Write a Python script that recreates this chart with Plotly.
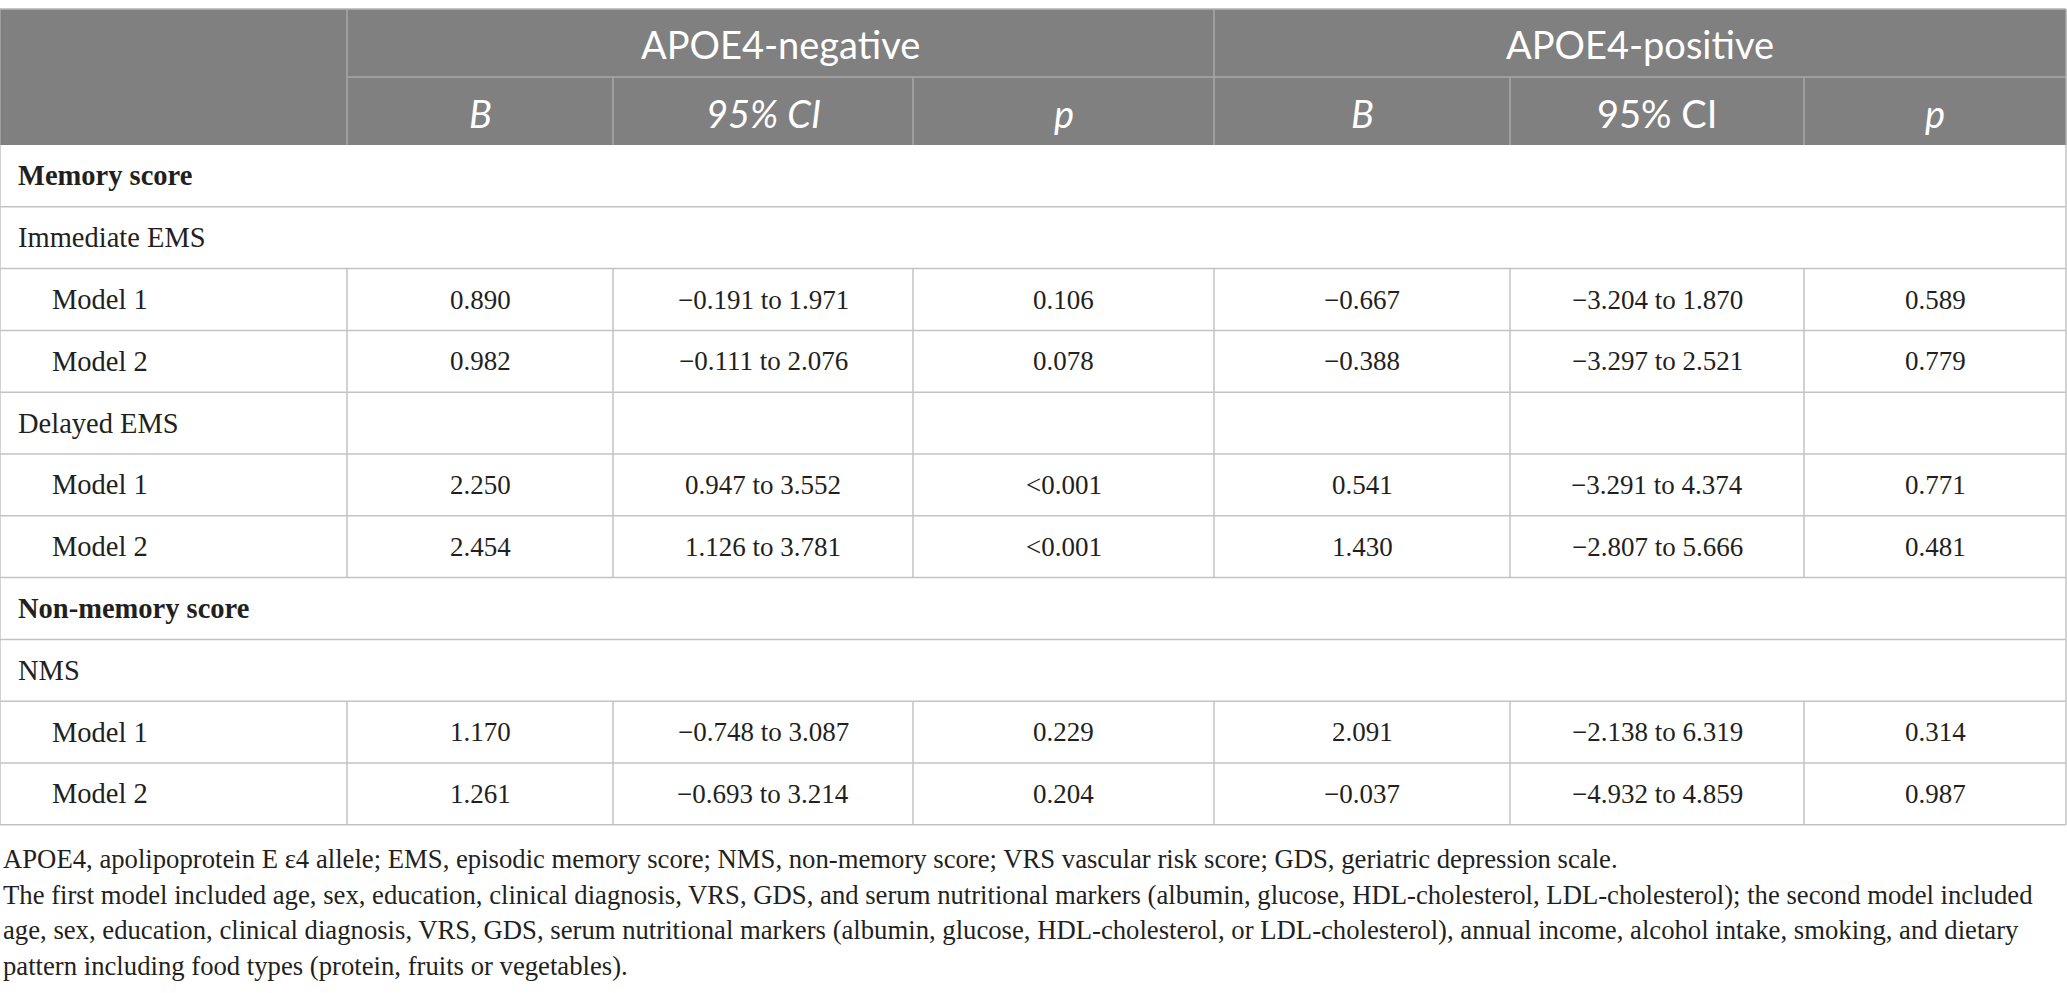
import plotly.graph_objects as go

# row labels of the table body, top to bottom
row_labels = ["Memory score", "Immediate EMS", "Model 1", "Model 2", "Delayed EMS",
              "Model 1", "Model 2", "Non-memory score", "NMS", "Model 1", "Model 2"]
# section = bold spanning row, group = spanning sub-heading, cells = sub-heading with empty cells, model = data row
row_kind = ["section", "group", "model", "model", "cells",
            "model", "model", "section", "group", "model", "model"]

group_names = ["APOE4-negative", "APOE4-positive"]
sub_headers = ["<i>B</i>", "<i>95% CI</i>", "<i>p</i>", "<i>B</i>", "95% CI", "<i>p</i>"]

# values for the six model rows
neg_B = ["0.890", "0.982", "2.250", "2.454", "1.170", "1.261"]
neg_ci = ["\u22120.191 to 1.971", "\u22120.111 to 2.076", "0.947 to 3.552",
          "1.126 to 3.781", "\u22120.748 to 3.087", "\u22120.693 to 3.214"]
neg_p = ["0.106", "0.078", "<0.001", "<0.001", "0.229", "0.204"]
pos_B = ["\u22120.667", "\u22120.388", "0.541", "1.430", "2.091", "\u22120.037"]
pos_ci = ["\u22123.204 to 1.870", "\u22123.297 to 2.521", "\u22123.291 to 4.374",
          "\u22122.807 to 5.666", "\u22122.138 to 6.319", "\u22124.932 to 4.859"]
pos_p = ["0.589", "0.779", "0.771", "0.481", "0.314", "0.987"]

footnotes = [
    "APOE4, apolipoprotein E \u03b54 allele; EMS, episodic memory score; NMS, non-memory score; VRS vascular risk score; GDS, geriatric depression scale.",
    "The first model included age, sex, education, clinical diagnosis, VRS, GDS, and serum nutritional markers (albumin, glucose, HDL-cholesterol, LDL-cholesterol); the second model included",
    "age, sex, education, clinical diagnosis, VRS, GDS, serum nutritional markers (albumin, glucose, HDL-cholesterol, or LDL-cholesterol), annual income, alcohol intake, smoking, and dietary",
    "pattern including food types (protein, fruits or vegetables).",
]

# layout (pixels)
W, H = 2067, 993
col_edges = [0, 347, 613, 913, 1214, 1510, 1804, 2066]
top, head_mid, head_bot = 9, 77, 145
row_h = 61.8
foot_y0, foot_dy = 859, 35.5

header_bg = "#808080"
header_line = "#a8a8a8"
grid = "#c3c3c3"
ink = "#231f20"
serif = "Liberation Serif, Times New Roman, serif"
sans = "Lato, Open Sans, sans-serif"


def esc(s):
    return s.replace("<", "&lt;")


fig = go.Figure()
fig.add_trace(go.Scatter(x=[0, W], y=[0, H], mode="markers",
                         marker=dict(opacity=0), hoverinfo="skip", showlegend=False))

shapes = []
annots = []


def line(x0, y0, x1, y1, color=grid, width=1.5):
    shapes.append(dict(type="line", xref="x", yref="y", x0=x0, y0=y0, x1=x1, y1=y1,
                       line=dict(color=color, width=width)))


# header block
shapes.append(dict(type="rect", xref="x", yref="y", x0=col_edges[0], x1=col_edges[-1],
                   y0=top, y1=head_bot, fillcolor=header_bg, line=dict(width=0), layer="below"))
line(col_edges[0], top, col_edges[-1], top, color="#b5b5b5")
line(col_edges[1], head_mid, col_edges[-1], head_mid, color=header_line)
for xe in [col_edges[1], col_edges[4]]:
    line(xe, top, xe, head_bot, color=header_line)
for xe in [col_edges[2], col_edges[3], col_edges[5], col_edges[6]]:
    line(xe, head_mid, xe, head_bot, color=header_line)
line(col_edges[0], top, col_edges[0], head_bot, color=header_line)
line(col_edges[-1], top, col_edges[-1], head_bot, color=header_line)

for g, name in enumerate(group_names):
    x0, x1 = col_edges[1 + 3 * g], col_edges[4 + 3 * g]
    annots.append(dict(x=(x0 + x1) / 2, y=(top + head_mid) / 2 + 1, text=name,
                       font=dict(family=sans, size=38, color="white")))
for c, txt in enumerate(sub_headers):
    x0, x1 = col_edges[1 + c], col_edges[2 + c]
    annots.append(dict(x=(x0 + x1) / 2, y=(head_mid + head_bot) / 2 + 2, text=txt,
                       font=dict(family=sans, size=38, color="white")))

# body
cols = [neg_B, neg_ci, neg_p, pos_B, pos_ci, pos_p]
m = 0
for r, (lab, kind) in enumerate(zip(row_labels, row_kind)):
    y0 = head_bot + r * row_h
    y1 = y0 + row_h
    yc = (y0 + y1) / 2
    line(col_edges[0], y1, col_edges[-1], y1)
    line(col_edges[0], y0, col_edges[0], y1)
    line(col_edges[-1], y0, col_edges[-1], y1)
    if kind in ("model", "cells"):
        for xe in col_edges[1:-1]:
            line(xe, y0, xe, y1)
    if kind == "section":
        txt, xl = "<b>" + lab + "</b>", 16
    elif kind == "model":
        txt, xl = lab, 50
    else:
        txt, xl = lab, 16
    annots.append(dict(x=xl, y=yc, text=txt, xanchor="left",
                       font=dict(family=serif, size=28.5, color=ink)))
    if kind == "model":
        for c, vals in enumerate(cols):
            x0, x1 = col_edges[1 + c], col_edges[2 + c]
            annots.append(dict(x=(x0 + x1) / 2, y=yc, text=esc(vals[m]),
                               font=dict(family=serif, size=27, color=ink)))
        m += 1

# footnotes
for i, t in enumerate(footnotes):
    annots.append(dict(x=1, y=foot_y0 + i * foot_dy, text=t, xanchor="left",
                       font=dict(family=serif, size=26.7, color=ink)))

for a in annots:
    a.update(xref="x", yref="y", showarrow=False, yanchor="middle")
    a.setdefault("xanchor", "center")

fig.update_layout(
    width=W, height=H,
    margin=dict(l=0, r=0, t=0, b=0),
    paper_bgcolor="white", plot_bgcolor="white",
    shapes=shapes, annotations=annots,
    xaxis=dict(range=[0, W], visible=False, fixedrange=True),
    yaxis=dict(range=[H, 0], visible=False, fixedrange=True),
    showlegend=False,
)

fig.write_html("out.html", config={"displayModeBar": False},
               post_script="document.body.style.margin='0';document.body.style.overflow='hidden';")
